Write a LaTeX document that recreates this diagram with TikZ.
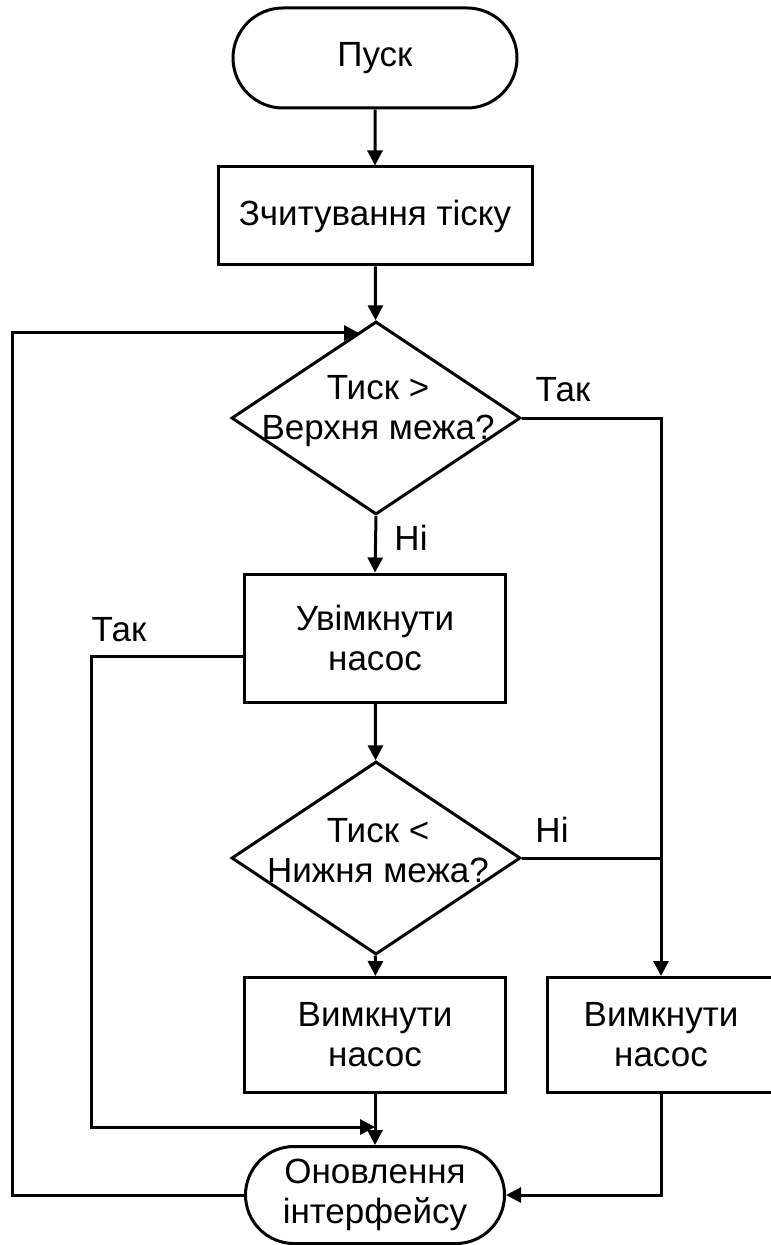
\documentclass[tikz,border=0pt]{standalone}
\usepackage{fontspec}
\setmainfont{Liberation Sans}
\usepackage{tikz}
\usetikzlibrary{
    arrows.meta,
    shapes.geometric,
    shapes.misc
}

\begin{document}
\begin{tikzpicture}[
        x=0.5pt, y=-0.5pt,
        >={Triangle[length=7.5pt,width=7.5pt]},
        line width=1.5pt,
        every node/.style={
            font=\fontsize{17.5}{20}\selectfont,
            align=center
        },
        terminal/.style={draw, rounded rectangle, inner sep=0pt},
        process/.style={draw, rectangle, inner sep=0pt},
        decision/.style={draw, diamond, inner sep=0pt,
            minimum width=144.5pt, minimum height=96.5pt}
    ]

    \useasboundingbox (0,0) rectangle (770,1245);

    \node[terminal, minimum width=142pt, minimum height=50pt] (start) at (375,58) {Пуск};
    \node[process, minimum width=157pt, minimum height=49pt] (read) at (375,216) {Зчитування тіску};

    \node[decision] (dec1) at (376,418) {};
    \node (dec1txt) at (378,411) {Тиск >\\Верхня межа?};

    \node[process, minimum width=130.5pt, minimum height=64pt] (on) at (375,638) {Увімкнути\\насос};

    \node[decision] (dec2) at (376,858) {};
    \node (dec2txt) at (378,851) {Тиск <\\Нижня межа?};

    \node[process, minimum width=130.5pt, minimum height=57.5pt] (off1) at (375,1035) {Вимкнути\\насос};
    \node[process, minimum width=114pt, minimum height=57.5pt] (off2) at (661,1035) {Вимкнути\\насос};

    \node[terminal, minimum width=129.5pt, minimum height=48.5pt] (upd) at (375,1195) {Оновлення\\інтерфейсу};

    % labels
    \node (yes1) at (563,390) {Так};
    \node (no1) at (411,538) {Ні};
    \node (yes2) at (119,630) {Так};
    \node (no2) at (552,830) {Ні};

    \coordinate (leftbend) at (91,1127);
    \coordinate (join) at (375,1127);
    \coordinate (loopcorner) at (12,333);
    \coordinate (loopin) at (359,333);

    \draw[->] (start) -- (read);
    \draw[->] (read) -- (dec1);
    \draw[->] (dec1.east) -| (off2.north);
    \draw[->] (dec1.south) -- (on.north);
    \draw[->] (on) -- (dec2);
    \draw (dec2.east) -- (dec2.east -| off2.north);
    \draw[->] (dec2) -- (off1);
    \draw[->] ([yshift=-9pt]on.west) -| (leftbend) -- (join);
    \draw[->] (off1) -- (upd);
    \draw[->] (off2.south) |- (upd.east);
    \draw[->] (upd.west) -| (loopcorner) -- (loopin);

\end{tikzpicture}
\end{document}
